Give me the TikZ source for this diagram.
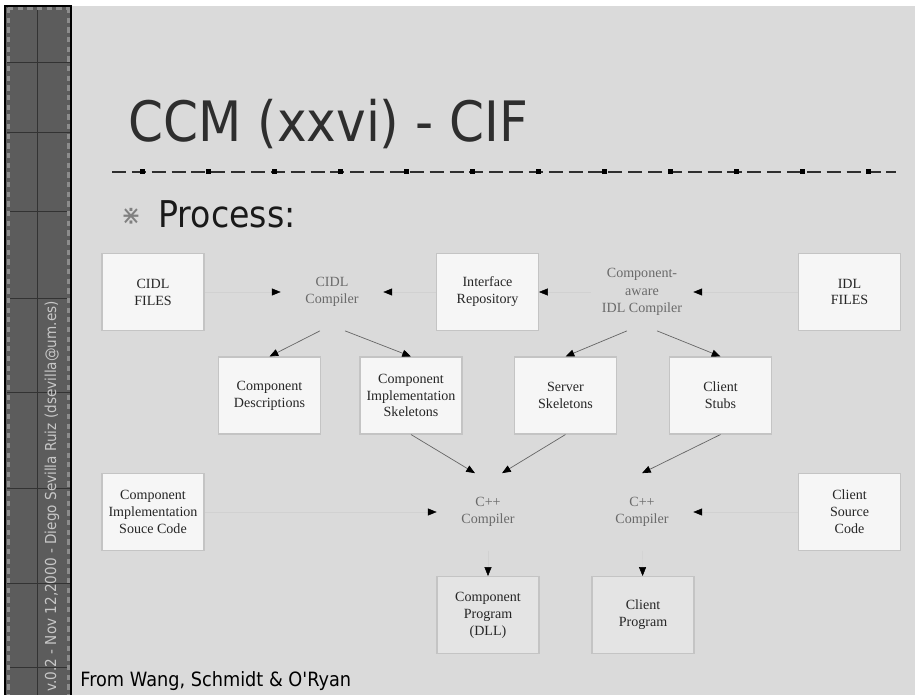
\documentclass[tikz,border=0pt]{standalone}
\usepackage{fontspec}
\setmainfont{Liberation Serif}
\newfontfamily\slidefont[FakeStretch=0.9]{DejaVu Sans}
\usepackage{tikz}
\usetikzlibrary{arrows.meta}
\usetikzlibrary{positioning}
\definecolor{slidebg}{HTML}{DADADA}
\definecolor{stripgray}{HTML}{5C5C5C}
\definecolor{boxfill}{HTML}{F6F6F6}
\definecolor{outfill}{HTML}{E4E4E4}
\definecolor{boxline}{HTML}{C4C4C4}
\definecolor{inktext}{HTML}{2E2E2E}
\definecolor{tooltext}{HTML}{6A6A6A}

\begin{document}
\begin{tikzpicture}
		[x=0.02cm,y=-0.02cm,
		 artifact/.style={rectangle,draw=boxline,fill=boxfill,line width=0.6pt,
		   minimum width=2.04cm,minimum height=1.54cm,align=center,
		   font=\fontsize{8}{9.6}\selectfont,text=black!85},
		 product/.style={artifact,fill=outfill},
		 tool/.style={rectangle,minimum width=2.04cm,minimum height=1.54cm,align=center,
		   font=\fontsize{8}{10}\selectfont,text=tooltext},
		 produces/.style={-{Triangle[length=5pt,width=4pt,color=black]},draw=black!60,line width=0.4pt},
		 feeds/.style={-{Triangle[length=5pt,width=4pt,color=black]},draw=black!18,line width=0.25pt}]

		\useasboundingbox (0,0) rectangle (915,695);
		\fill[white] (0,0) rectangle (915,695);
		\fill[slidebg] (5,6) rectangle (915,695);

		\fill[stripgray] (5,6) rectangle (72,695);
		\foreach \y in {62,132,211,298,392,488,583,667}
			\draw[black!80,line width=0.5pt] (7,\y) -- (70,\y);
		\draw[black!80,line width=0.5pt] (37,6) -- (37,695);
		\draw[black!45,line width=1.6pt,dash pattern=on 3pt off 2.5pt] (8.5,8) -- (8.5,695) (68.5,8) -- (68.5,695);
		\draw[black!45,line width=1.6pt,dash pattern=on 3pt off 2.5pt] (8,8.5) -- (70,8.5);
		\draw[black,line width=1.3pt] (5,695) -- (5,6) -- (71,6) -- (71,695);
		\node[rotate=90,anchor=base west,font=\slidefont\fontsize{8.6}{10}\selectfont,text=black!22,inner sep=0pt]
			(stripText) at (56,692) {v.0.2 - Nov 12,2000 - Diego Sevilla Ruiz (dsevilla@um.es)};

		\node[anchor=base west,inner sep=0pt,font=\slidefont\fontsize{31.7}{36}\selectfont,text=inktext]
			(title) at (128,142) {CCM (xxvi) - CIF};
		\draw[inktext,line width=0.6pt,dash pattern=on 8pt off 3.3pt] (112,172) -- (896,172);
		\foreach \i in {0,...,11}
			\fill[black] (142+66*\i-2.5,169.5) rectangle ++(5,5);
		\node[inner sep=0pt,font=\slidefont\fontsize{15}{15}\selectfont,text=black!50] (bullet) at (131,216) {⋇};
		\node[anchor=base west,inner sep=0pt,font=\slidefont\fontsize{21}{24}\selectfont,text=black!90]
			(process) at (158,228) {Process:};

		\node[artifact] (CIDLFiles) at (153,292) {CIDL\\FILES};
		\node[tool] (CIDLCompiler) at (332,292) {CIDL\\Compiler};
		\node[artifact] (IntfRepo) at (487.5,292) {Interface\\Repository};
		\node[tool] (CompAwareIDL) at (642,292) {Component-\\aware\\IDL Compiler};
		\node[artifact] (IDLFiles) at (849.5,292) {IDL\\FILES};

		\node[artifact] (CompDesc) at (269.5,395.5) {Component\\Descriptions};
		\node[artifact] (CompImplSkel) at (411,395.5) {Component\\Implementation\\Skeletons};
		\node[artifact] (ServerSkel) at (565.5,395.5) {Server\\Skeletons};
		\node[artifact] (ClientStubs) at (720.5,395.5) {Client\\Stubs};

		\node[artifact] (CompImplSrc) at (153,512) {Component\\Implementation\\Souce Code};
		\node[tool] (CxxCompilerL) at (488,512) {C++\\Compiler};
		\node[tool] (CxxCompilerR) at (642,512) {C++\\Compiler};
		\node[artifact] (ClientSrc) at (849.5,512) {Client\\Source\\Code};

		\node[product] (CompProgram) at (488,615) {Component\\Program\\(DLL)};
		\node[product] (ClientProgram) at (643,615) {Client\\Program};

		\draw[feeds] (CIDLFiles) -- (CIDLCompiler);
		\draw[feeds] (IntfRepo) -- (CIDLCompiler);
		\draw[feeds] (CompAwareIDL) -- (IntfRepo);
		\draw[feeds] (IDLFiles) -- (CompAwareIDL);
		\draw[produces] ([xshift=-0.24cm]CIDLCompiler.south) -- (CompDesc.north);
		\draw[produces] ([xshift=0.26cm]CIDLCompiler.south) -- (CompImplSkel.north);
		\draw[produces] ([xshift=-0.3cm]CompAwareIDL.south) -- (ServerSkel.north);
		\draw[produces] ([xshift=0.3cm]CompAwareIDL.south) -- (ClientStubs.north);

		\draw[produces] (CompImplSkel.south) -- ([xshift=-0.26cm]CxxCompilerL.north);
		\draw[produces] (ServerSkel.south) -- ([xshift=0.28cm]CxxCompilerL.north);
		\draw[produces] (ClientStubs.south) -- (CxxCompilerR.north);
		\draw[feeds] (CompImplSrc) -- (CxxCompilerL);
		\draw[feeds] (ClientSrc) -- (CxxCompilerR);
		\draw[feeds] (CxxCompilerL) -- (CompProgram);
		\draw[feeds] (CxxCompilerR) -- (ClientProgram);

		\node[anchor=base west,inner sep=0pt,font=\slidefont\fontsize{11.2}{13}\selectfont,text=black]
			(source) at (80,686) {From Wang, Schmidt \& O'Ryan};
	\end{tikzpicture}
\end{document}
